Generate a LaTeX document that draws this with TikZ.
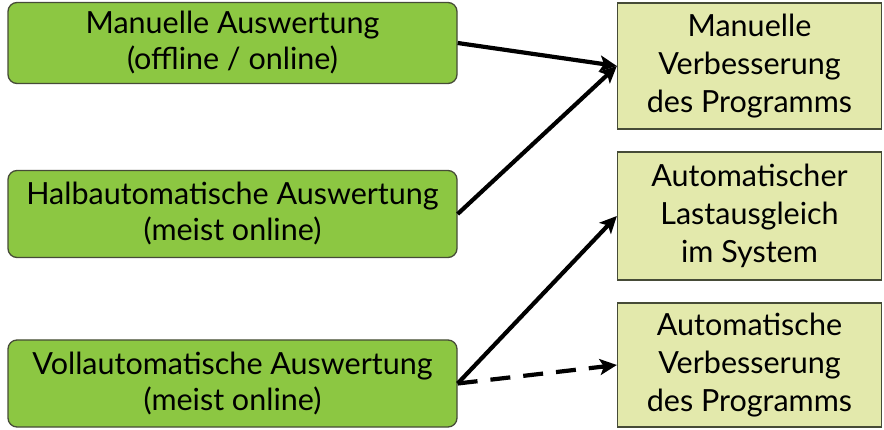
\documentclass[tikz,border=0pt]{standalone}
\usepackage{fontspec}
\setmainfont{Lato}
\usetikzlibrary{arrows.meta}
\definecolor{lgreen}{RGB}{140,199,66}
\definecolor{lyell}{RGB}{227,233,172}
\definecolor{bord}{RGB}{70,75,55}
\tikzset{
  src/.style={draw=bord, line width=1.3pt, fill=lgreen, rounded corners=9pt, minimum width=449pt, align=center, font=\fontsize{30.5}{36}\selectfont, inner sep=0pt},
  dst/.style={draw=bord, line width=1.3pt, fill=lyell, minimum width=264pt, align=center, font=\fontsize{30.5}{38}\selectfont, inner sep=0pt},
  arr/.style={line width=4.2pt, -{Stealth[length=17pt,width=16pt,inset=4pt]}}
}
\begin{document}
\begin{tikzpicture}[x=1pt,y=-1pt]
\useasboundingbox (0,0) rectangle (884,430);
\node[src, minimum height=81pt] (a) at (232.5,43) {Manuelle Auswertung\\(offline / online)};
\node[src, minimum height=87pt] (b) at (232.5,214) {Halbautomatische Auswertung\\(meist online)};
\node[src, minimum height=87pt] (c) at (232.5,383.5) {Vollautomatische Auswertung\\(meist online)};
\node[dst, minimum height=126pt] (d) at (749.5,66) {Manuelle\\Verbesserung\\des Programms};
\node[dst, minimum height=128pt] (e) at (749.5,216) {Automatischer\\Lastausgleich\\im System};
\node[dst, minimum height=124pt] (f) at (749.5,365) {Automatische\\Verbesserung\\des Programms};
\draw[arr] (a.east) -- (d.west);
\draw[arr] (b.east) -- (d.west);
\draw[arr] (c.east) -- (e.west);
\draw[arr, dash pattern=on 20pt off 13pt] (c.east) -- (f.west);
\end{tikzpicture}
\end{document}
